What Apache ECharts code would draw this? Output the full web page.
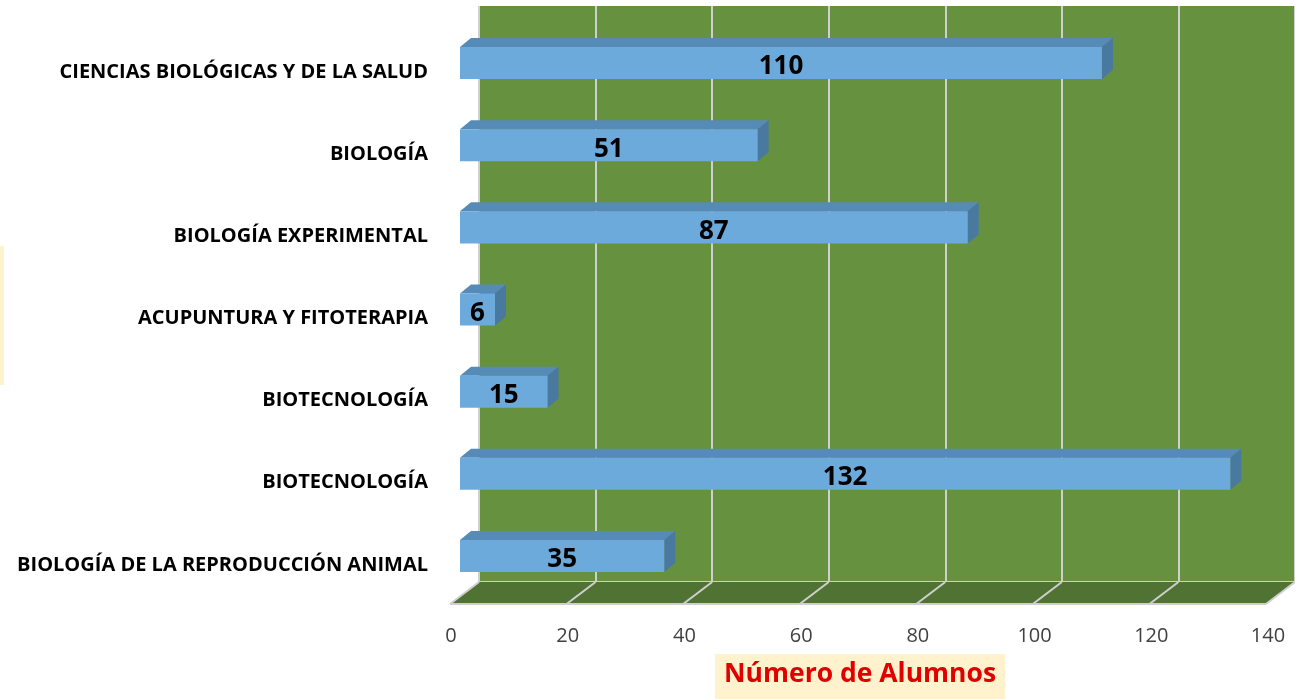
<!DOCTYPE html>
<html>
<head>
<meta charset="utf-8">
<title>Número de Alumnos</title>
<script src="https://cdn.jsdelivr.net/npm/echarts@6/dist/echarts.min.js"></script>
<style>
html,body{margin:0;padding:0;background:#fff;}
#main{width:1295px;height:699px;}
</style>
</head>
<body>
<div id="main"></div>
<script>
var categories = ['CIENCIAS BIOLÓGICAS Y DE LA SALUD', 'BIOLOGÍA', 'BIOLOGÍA EXPERIMENTAL', 'ACUPUNTURA Y FITOTERAPIA', 'BIOTECNOLOGÍA', 'BIOTECNOLOGÍA', 'BIOLOGÍA DE LA REPRODUCCIÓN ANIMAL'];
var alumnos = [110, 51, 87, 6, 15, 132, 35];
var ticks = [0, 20, 40, 60, 80, 100, 120, 140];
var axisTitle = 'Número de Alumnos';

var fontFam = '"Open Sans", sans-serif';
var wallColor = '#66923F';
var floorColor = '#507334';
var gridColor = '#CFCFCF';
var frontColor = '#6CAADC';
var topColor = '#558BB6';
var sideColor = '#4A79A0';

// desplazamiento de la perspectiva: suelo (fondo -> frente) y fondo de las barras
var floorDx = -29, floorDy = 22;
var barDx = 11, barDy = -9;

var chart = echarts.init(document.getElementById('main'));

var floorData = ticks.slice(0, -1).map(function (t, i) { return [t, ticks[i + 1]]; });
var barData = alumnos.map(function (v, i) { return [v, i]; });

function renderFloor(params, api) {
	var a = api.coord([api.value(0), 0]);
	var b = api.coord([api.value(1), 0]);
	var fa = [a[0] + floorDx, a[1] + floorDy];
	var fb = [b[0] + floorDx, b[1] + floorDy];
	var children = [
		{type: 'polygon', shape: {points: [a, b, fb, fa]}, style: {fill: floorColor}},
		{type: 'line', shape: {x1: a[0], y1: a[1], x2: fa[0], y2: fa[1]}, style: {stroke: gridColor, lineWidth: 2}},
		{type: 'line', shape: {x1: fa[0], y1: fa[1], x2: fb[0], y2: fb[1]}, style: {stroke: gridColor, lineWidth: 2}}
	];
	if (params.dataIndex === floorData.length - 1) {
		children.push({type: 'line', shape: {x1: b[0], y1: b[1], x2: fb[0], y2: fb[1]}, style: {stroke: gridColor, lineWidth: 2}});
	}
	return {type: 'group', children: children};
}

function renderBar(params, api) {
	var idx = api.value(1);
	var p0 = api.coord([0, idx]);
	var p1 = api.coord([api.value(0), idx]);
	var h = api.size([0, 1])[1] * 0.39;
	var x0 = p0[0], x1 = p1[0];
	var top = p0[1] - h / 2, bot = p0[1] + h / 2;
	return {
		type: 'group',
		children: [
			{type: 'polygon', shape: {points: [[x0, top], [x1, top], [x1 + barDx, top + barDy], [x0 + barDx, top + barDy]]}, style: {fill: topColor}},
			{type: 'polygon', shape: {points: [[x1, top], [x1 + barDx, top + barDy], [x1 + barDx, bot + barDy], [x1, bot]]}, style: {fill: sideColor}},
			{type: 'rect', shape: {x: x0, y: top, width: x1 - x0, height: h}, style: {fill: frontColor}},
			{type: 'text', style: {text: String(api.value(0)), x: (x0 + x1) / 2, y: p0[1] + 4, align: 'center', verticalAlign: 'middle', fill: '#000', font: 'bold 26px ' + fontFam}}
		]
	};
}

var option = {
	animation: false,
	backgroundColor: '#fff',
	title: {
		text: axisTitle,
		left: 715,
		top: 654,
		backgroundColor: '#FFF2CC',
		padding: [7, 9, 12, 9],
		textStyle: {color: '#E00000', fontSize: 26.5, fontWeight: 'bold', fontFamily: fontFam}
	},
	graphic: [
		{type: 'rect', shape: {x: 0, y: 246, width: 4, height: 139}, style: {fill: '#FFF2CC'}}
	],
	grid: [
		{left: 479, top: 6, width: 817, height: 576, show: true, backgroundColor: wallColor, borderWidth: 0},
		{left: 460, top: 22, width: 817, height: 575},
		{left: 451, top: 31, width: 817, height: 575}
	],
	xAxis: [
		{gridIndex: 0, type: 'value', min: 0, max: 140, interval: 20, position: 'top',
			axisLine: {show: true, lineStyle: {color: gridColor, width: 2}},
			axisTick: {show: false}, axisLabel: {show: false},
			splitLine: {show: true, lineStyle: {color: gridColor, width: 2}}},
		{gridIndex: 1, type: 'value', min: 0, max: 140, show: false},
		{gridIndex: 2, type: 'value', min: 0, max: 140, interval: 20,
			axisLine: {show: false}, axisTick: {show: false}, splitLine: {show: false},
			axisLabel: {color: '#404040', fontSize: 20, margin: 20, fontFamily: fontFam}}
	],
	yAxis: [
		{gridIndex: 0, type: 'value', min: 0, max: 1, show: false},
		{gridIndex: 1, type: 'category', data: categories, inverse: true, show: false},
		{gridIndex: 2, type: 'category', data: categories, inverse: true,
			axisLine: {show: false}, axisTick: {show: false}, splitLine: {show: false},
			axisLabel: {color: '#000', fontSize: 20, fontWeight: 'bold', margin: 23, fontFamily: fontFam,
				formatter: function (v, i) { return categories[i]; }}}
	],
	series: [
		{type: 'custom', name: 'suelo', xAxisIndex: 0, yAxisIndex: 0, data: floorData, renderItem: renderFloor, silent: true, z: 1},
		{type: 'custom', name: axisTitle, xAxisIndex: 1, yAxisIndex: 1, data: barData, renderItem: renderBar, z: 3}
	]
};

chart.setOption(option);
</script>
</body>
</html>
